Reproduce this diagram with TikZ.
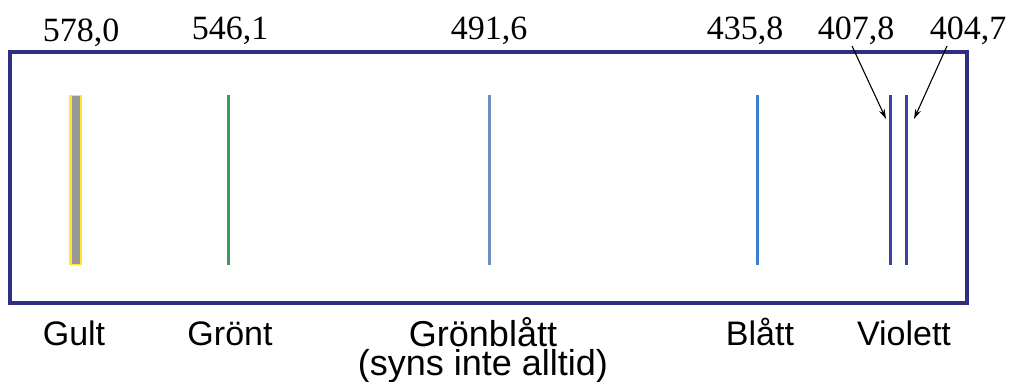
\documentclass[tikz,border=0pt]{standalone}
\usepackage{fontspec}
\setmainfont{Liberation Serif}
\setsansfont{Liberation Sans}
\usetikzlibrary{arrows.meta}
\definecolor{frame}{HTML}{2E2E82}
\definecolor{ylw}{HTML}{FFE82A}
\definecolor{gry}{HTML}{999999}
\definecolor{grn}{HTML}{3A9A5C}
\definecolor{gblue}{HTML}{6F8FBC}
\definecolor{blu}{HTML}{3A80CC}
\definecolor{vio}{HTML}{3A44A0}
\tikzset{
  wl/.style={font=\fontsize{34}{34}\selectfont, anchor=base, inner sep=0pt},
  nm/.style={font=\sffamily\fontsize{34}{34}\selectfont, anchor=base, inner sep=0pt},
  nmbig/.style={font=\sffamily\fontsize{36}{29}\selectfont, align=center, anchor=base, inner sep=0pt},
  sline/.style={line width=3pt},
  arr/.style={line width=1.1pt, -{Stealth[length=10pt,width=6pt]}}
}
\begin{document}
\begin{tikzpicture}[x=1pt,y=-1pt]
\useasboundingbox (0,0) rectangle (1012,381);
% frame
\draw[frame, line width=3.5pt] (10,52) rectangle (967,303);
% yellow line
\fill[ylw] (69,95) rectangle (82,265);
\fill[gry] (72,96) rectangle (80,264);
% other lines
\draw[sline, grn] (228,95) -- (228,265);
\draw[sline, gblue] (489,95) -- (489,265);
\draw[sline, blu] (757,95) -- (757,265);
\draw[sline, vio] (890,95) -- (890,265);
\draw[sline, vio] (906,95) -- (906,265);
% wavelength labels
\node[wl] (l578) at (81,41) {578,0};
\node[wl] (l546) at (230,39) {546,1};
\node[wl] (l491) at (489,39) {491,6};
\node[wl] (l435) at (745,39) {435,8};
\node[wl] (l407) at (856,39) {407,8};
\node[wl] (l404) at (968,39) {404,7};
% arrows
\coordinate (s1) at (852,46);
\coordinate (e1) at (886,119);
\coordinate (s2) at (947,46);
\coordinate (e2) at (914,119);
\draw[arr] (s1) -- (e1);
\draw[arr] (s2) -- (e2);
% colour names
\node[nm] (gult) at (74,345) {Gult};
\node[nm] (gront) at (230,345) {Grönt};
\node[nmbig] (gb) at (483,375) {Grönblått\\(syns inte alltid)};
\node[nm] (blatt) at (760,345) {Blått};
\node[nm] (viol) at (904,345) {Violett};
\end{tikzpicture}
\end{document}
